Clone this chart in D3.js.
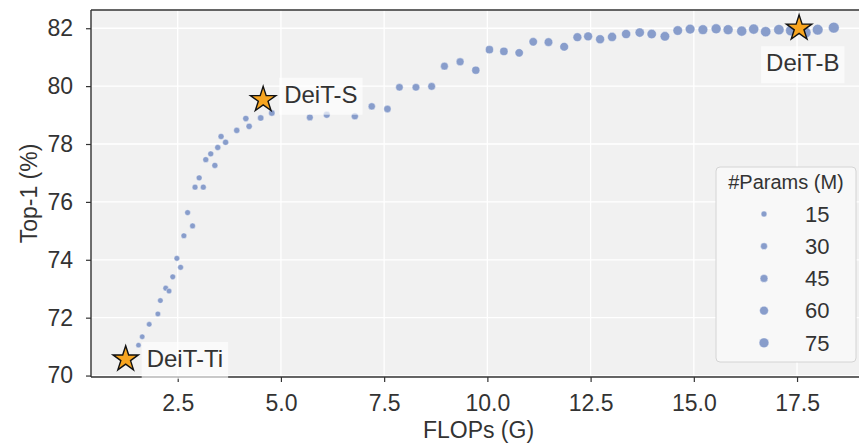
<!DOCTYPE html>
<html lang="en">
<head>
<meta charset="utf-8">
<title>DeiT FLOPs vs Top-1</title>
<script src="https://d3js.org/d3.v7.min.js"></script>
<style>
body { margin: 0; background: #fff; }
text { font-family: "Liberation Sans", Arial, sans-serif; fill: #333; }
</style>
</head>
<body>
<script>
// data
const flops = [1.55,1.64,1.81,2.02,2.08,2.21,2.29,2.38,2.48,2.57,2.65,2.74,2.86,2.92,3.02,3.12,3.18,3.30,3.40,3.47,
  3.55,3.66,3.93,4.15,4.23,4.51,4.78,5.70,6.11,6.79,7.20,7.58,7.87,8.27,8.65,8.96,9.34,9.72,10.05,10.40,
  10.77,11.11,11.48,11.86,12.18,12.44,12.73,13.02,13.36,13.69,13.98,14.30,14.61,14.91,15.22,15.54,15.83,16.16,16.45,16.74,
  17.06,17.35,17.71,18.00,18.39];
const top1 = [71.05,71.34,71.77,72.13,72.59,73.02,72.92,73.41,74.05,73.74,74.83,75.63,75.17,76.51,76.83,76.51,77.46,77.66,77.26,77.88,
  78.26,78.06,78.47,78.88,78.61,78.90,79.07,78.92,79.01,78.96,79.30,79.21,79.96,79.96,79.99,80.69,80.84,80.55,81.26,81.20,
  81.15,81.53,81.52,81.36,81.69,81.72,81.62,81.70,81.80,81.85,81.80,81.72,81.92,81.97,81.95,81.98,81.95,81.90,81.97,81.88,
  81.95,81.92,81.85,81.95,82.02];
const params = [7,8,9,10,10,11,11,12,12,13,13,13,14,14,15,15,16,16,17,17,
  17,18,19,20,21,22,23,28,30,33,35,37,39,41,42,44,46,48,49,51,
  53,54,56,58,60,61,62,64,65,67,68,70,71,73,74,76,77,79,80,82,
  83,85,86,88,90];

const models = ["DeiT-Ti", "DeiT-S", "DeiT-B"];
const modelFlops = [1.24, 4.57, 17.55];
const modelTop1 = [70.57, 79.53, 82.0];

const legendParams = [15, 30, 45, 60, 75];
const xTicks = [2.5, 5.0, 7.5, 10.0, 12.5, 15.0, 17.5];
const yTicks = [70, 72, 74, 76, 78, 80, 82];

const W = 859, H = 446;
const pl = 91, pr = 866, pt = 10, pb = 377;

const svg = d3.select("body").append("svg")
  .attr("width", W).attr("height", H);

const x = d3.scaleLinear().domain([0.40, 19.17]).range([pl, pr]);
const y = d3.scaleLinear().domain([69.95, 82.63]).range([pb, pt]);
// marker radius grows with params
const rad = d3.scaleLinear().domain([5, 90]).range([2.6, 5.4]);

svg.append("clipPath").attr("id", "plot")
  .append("rect").attr("x", pl).attr("y", pt)
  .attr("width", pr - pl).attr("height", pb - pt);

svg.append("rect")
  .attr("x", pl).attr("y", pt)
  .attr("width", pr - pl).attr("height", pb - pt)
  .attr("fill", "#f1f1f1");

// grid
const grid = svg.append("g").attr("clip-path", "url(#plot)");
grid.selectAll(".gx").data(xTicks).join("line").attr("class", "gx")
  .attr("x1", d => x(d)).attr("x2", d => x(d))
  .attr("y1", pt).attr("y2", pb)
  .attr("stroke", "#fff").attr("stroke-width", 1.3);
grid.selectAll(".gy").data(yTicks).join("line").attr("class", "gy")
  .attr("y1", d => y(d)).attr("y2", d => y(d))
  .attr("x1", pl).attr("x2", pr)
  .attr("stroke", "#fff").attr("stroke-width", 1.3);

// scatter
const pts = flops.map((f, i) => ({f: f, t: top1[i], p: params[i]}));
svg.append("g").attr("clip-path", "url(#plot)")
  .selectAll("circle").data(pts).join("circle")
  .attr("cx", d => x(d.f)).attr("cy", d => y(d.t))
  .attr("r", d => rad(d.p))
  .attr("fill", "#889dcb")
  .attr("stroke", "#fff").attr("stroke-width", 0.4);

// axes
const xAxis = d3.axisBottom(x).tickValues(xTicks).tickFormat(d3.format(".1f"))
  .tickSize(5).tickPadding(13);
const yAxis = d3.axisLeft(y).tickValues(yTicks).tickSize(5).tickPadding(13);

const gx = svg.append("g").attr("transform", `translate(0,${pb})`).call(xAxis);
const gy = svg.append("g").attr("transform", `translate(${pl},0)`).call(yAxis);
[gx, gy].forEach(g => {
  g.select(".domain").remove();
  g.selectAll(".tick line").attr("stroke", "#333").attr("stroke-width", 1.2);
  g.selectAll(".tick text").attr("font-size", 23).attr("fill", "#333")
    .attr("font-family", "Liberation Sans, Arial, sans-serif");
});

// spines
svg.append("line").attr("x1", pl).attr("x2", pl).attr("y1", pt).attr("y2", pb)
  .attr("stroke", "#333").attr("stroke-width", 1.4);
svg.append("line").attr("x1", pl).attr("x2", pr).attr("y1", pb).attr("y2", pb)
  .attr("stroke", "#333").attr("stroke-width", 1.4);
svg.append("line").attr("x1", pl).attr("x2", pr).attr("y1", pt).attr("y2", pt)
  .attr("stroke", "#333").attr("stroke-width", 1.4);

// axis labels
svg.append("text").attr("x", (pl + pr) / 2).attr("y", 438)
  .attr("text-anchor", "middle").attr("font-size", 23).text("FLOPs (G)");
svg.append("text")
  .attr("transform", `translate(37,${(pt + pb) / 2}) rotate(-90)`)
  .attr("text-anchor", "middle").attr("font-size", 23).text("Top-1 (%)");

// model labels with translucent box
const labOffset = [[21, 8], [21, 3], [-33, 43]];
const labs = svg.append("g");
models.forEach((m, i) => {
  const g = labs.append("g");
  const t = g.append("text")
    .attr("x", x(modelFlops[i]) + labOffset[i][0])
    .attr("y", y(modelTop1[i]) + labOffset[i][1])
    .attr("font-size", 24).text(m);
  const b = t.node().getBBox();
  g.insert("rect", "text")
    .attr("x", b.x - 5).attr("y", b.y - 3)
    .attr("width", b.width + 10).attr("height", b.height + 10)
    .attr("fill", "#fff").attr("opacity", 0.65);
});

// stars
svg.append("g").selectAll("path").data(models).join("path")
  .attr("transform", (d, i) => `translate(${x(modelFlops[i])},${y(modelTop1[i])})`)
  .attr("d", d3.symbol().type(d3.symbolStar).size(200))
  .attr("fill", "#f7a520").attr("stroke", "#111").attr("stroke-width", 1.4);

// legend
const lg = svg.append("g");
lg.append("rect").attr("x", 716).attr("y", 167).attr("width", 140).attr("height", 195)
  .attr("rx", 4).attr("fill", "#f8f8f8").attr("stroke", "#d4d4d4").attr("stroke-width", 1);
lg.append("text").attr("x", 786).attr("y", 189).attr("text-anchor", "middle")
  .attr("font-size", 20).text("#Params (M)");
legendParams.forEach((p, i) => {
  const cy = 214 + i * 32.2;
  lg.append("circle").attr("cx", 764).attr("cy", cy).attr("r", rad(p))
    .attr("fill", "#889dcb").attr("stroke", "#fff").attr("stroke-width", 0.4);
  lg.append("text").attr("x", 805).attr("y", cy).attr("dy", "0.35em")
    .attr("font-size", 22).text(p);
});
</script>
</body>
</html>
